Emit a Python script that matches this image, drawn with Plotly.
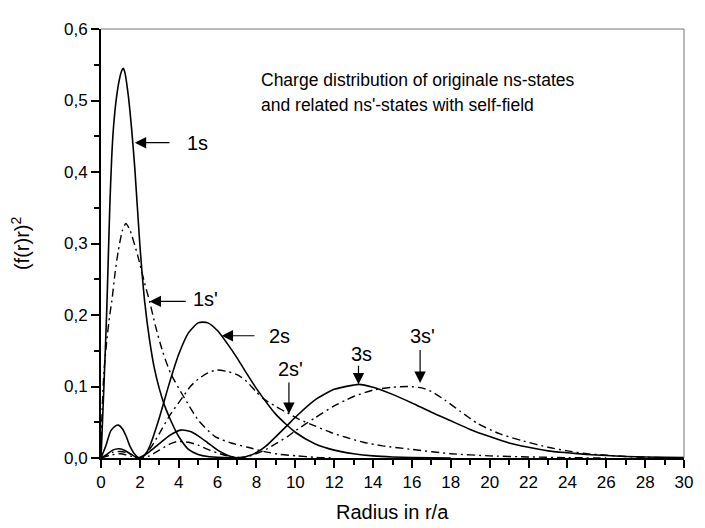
import plotly.graph_objects as go

# ---------------- data ----------------
r_1s = [0, 0.15, 0.3, 0.45, 0.55, 0.65, 0.8, 0.95, 1.07, 1.14, 1.22, 1.4, 1.57, 1.74, 2.0, 2.25,
        2.5, 2.75, 3.0, 3.25, 3.5, 3.75, 4.0, 4.5, 5.0, 5.5, 6.0, 7.0]
v_1s = [0, 0.10, 0.21, 0.35, 0.42, 0.465, 0.505, 0.53, 0.542, 0.545, 0.54, 0.508, 0.462, 0.405, 0.298, 0.218,
        0.165, 0.125, 0.097, 0.075, 0.058, 0.043, 0.03, 0.012, 0.005, 0.002, 0.001, 0]

r_2s = [0, 0.25, 0.5, 0.75, 0.9, 1.1, 1.3, 1.5, 1.75, 2.0, 2.25, 2.5, 3.0, 3.5, 4.0, 4.5, 5.0, 5.25,
        5.5, 6.0, 6.5, 7.0, 7.5, 8.0, 9.0, 10, 11, 12, 13, 14, 15, 16, 18]
v_2s = [0, 0.017, 0.038, 0.045, 0.046, 0.041, 0.03, 0.016, 0.005, 0, 0.004, 0.016, 0.056, 0.103, 0.145, 0.175, 0.189, 0.19,
        0.189, 0.178, 0.16, 0.14, 0.118, 0.097, 0.061, 0.036, 0.02, 0.011, 0.006, 0.003, 0.0015, 0.0008, 0]

r_3s = [0, 0.3, 0.6, 0.9, 1.2, 1.5, 1.9, 2.4, 3.0, 3.5, 4.1, 4.6, 5.0, 5.5, 6.0, 6.5, 7.1, 7.6, 8.0, 8.5,
        9.0, 9.6, 10, 11, 12, 13, 13.25, 14, 15, 16, 17, 18, 19, 20, 21, 22, 23, 24, 25, 26, 27, 28, 30]
v_3s = [0, 0.005, 0.011, 0.013, 0.011, 0.006, 0, 0.007, 0.02, 0.031, 0.039, 0.037, 0.031, 0.021, 0.011, 0.004, 0, 0.003, 0.0076, 0.017,
        0.03, 0.046, 0.057, 0.081, 0.096, 0.102, 0.103, 0.099, 0.089, 0.077, 0.064, 0.052, 0.04, 0.03, 0.021, 0.015, 0.01, 0.0073, 0.005, 0.0034, 0.0022, 0.0015, 0.0005]

r_1sp = [0, 0.05, 0.15, 0.3, 0.45, 0.56, 0.72, 0.89, 1.1, 1.28, 1.5, 1.9, 2.24, 2.5, 2.8, 3.17, 3.59, 4.27,
         5.03, 5.87, 6.7, 7.56, 8.4, 9.2, 10.1, 11, 12]
v_1sp = [0, 0.06, 0.12, 0.165, 0.2, 0.22, 0.258, 0.29, 0.318, 0.328, 0.318, 0.282, 0.245, 0.219, 0.185, 0.149, 0.118, 0.085,
         0.052, 0.030, 0.021, 0.015, 0.009, 0.005, 0.003, 0.001, 0]

r_2sp = [0, 0.3, 0.6, 1.0, 1.4, 1.7, 2.0, 2.5, 3.0, 3.5, 4.2, 4.6, 5.03, 5.5, 5.96, 6.5, 7.05, 7.5, 8.0, 8.4,
         9.0, 9.6, 10.2, 11.0, 11.8, 12.6, 13.5, 14.5, 16, 18, 20, 22, 24, 26]
v_2sp = [0, 0.004, 0.008, 0.009, 0.007, 0.003, 0, 0.012, 0.034, 0.058, 0.085, 0.1, 0.111, 0.119, 0.123, 0.121, 0.116, 0.107, 0.092, 0.082,
         0.072, 0.063, 0.054, 0.045, 0.036, 0.029, 0.022, 0.017, 0.012, 0.006, 0.003, 0.0015, 0.0005, 0]

r_3sp = [0, 0.5, 1.0, 1.5, 2.0, 2.5, 3.0, 3.5, 3.93, 4.5, 5.0, 5.5, 6.0, 6.5, 7.0, 7.5, 8.0, 8.5, 9.0, 9.6,
         10, 11, 12, 12.6, 13, 14, 15, 15.8, 16.5, 17, 17.7, 18.5, 19.4, 20.5, 21.7, 23, 24, 25, 26, 27, 28, 29, 30]
v_3sp = [0, 0.004, 0.006, 0.003, 0, 0.003, 0.011, 0.019, 0.023, 0.022, 0.018, 0.012, 0.007, 0.003, 0.001, 0.0015, 0.006, 0.012, 0.02, 0.03,
         0.038, 0.056, 0.073, 0.081, 0.086, 0.095, 0.099, 0.1, 0.098, 0.093, 0.081, 0.065, 0.048, 0.034, 0.024, 0.015, 0.01, 0.006, 0.004, 0.002, 0.001, 0.0005, 0]

# labels: text, label position, arrow tip and arrow tail (data units)
lab_text = ["1s", "1s'", "2s", "2s'", "3s", "3s'"]
lab_x = [4.98, 5.38, 9.18, 9.74, 13.38, 16.52]
lab_y = [0.440, 0.222, 0.170, 0.124, 0.146, 0.171]
tip_x = [1.74, 2.5, 6.21, 9.67, 13.25, 16.42]
tip_y = [0.441, 0.219, 0.171, 0.0617, 0.103, 0.105]
tail_x = [3.6, 4.44, 7.98, 9.67, 13.25, 16.42]
tail_y = [0.441, 0.219, 0.171, 0.1076, 0.131, 0.153]

x_ticks = list(range(0, 31, 2))
y_ticks = [0.0, 0.1, 0.2, 0.3, 0.4, 0.5, 0.6]
y_ticktext = ["0,0", "0,1", "0,2", "0,3", "0,4", "0,5", "0,6"]

FONT = "Liberation Sans, Arial, sans-serif"

fig = go.Figure()
solid = dict(color="black", width=1.6)
dashdot = dict(color="black", width=1.4, dash="8px,4px,2px,4px")

for xs, ys, nm, ln in [
    (r_1s, v_1s, "1s", solid), (r_2s, v_2s, "2s", solid), (r_3s, v_3s, "3s", solid),
    (r_1sp, v_1sp, "1s'", dashdot), (r_2sp, v_2sp, "2s'", dashdot), (r_3sp, v_3sp, "3s'", dashdot),
]:
    fig.add_trace(go.Scatter(x=xs, y=ys, mode="lines", name=nm,
                             line=dict(shape="spline", smoothing=0.6, **ln),
                             showlegend=False, hoverinfo="skip"))

ann = []
for t, lx, ly, tx, ty, ax_, ay_ in zip(lab_text, lab_x, lab_y, tip_x, tip_y, tail_x, tail_y):
    ann.append(dict(x=tx, y=ty, ax=ax_, ay=ay_, xref="x", yref="y", axref="x", ayref="y",
                    text="", showarrow=True, arrowhead=2, arrowsize=1.9, arrowwidth=1.2,
                    arrowcolor="black", standoff=0, startstandoff=0))
    ann.append(dict(x=lx, y=ly, xref="x", yref="y", text=t, showarrow=False,
                    font=dict(family=FONT, size=20, color="black"),
                    xanchor="center", yanchor="middle"))

ann.append(dict(x=8.15, y=0.528, xref="x", yref="y", text="Charge distribution of originale ns-states",
                showarrow=False, xanchor="left", yanchor="middle",
                font=dict(family=FONT, size=17.5, color="black")))
ann.append(dict(x=8.15, y=0.494, xref="x", yref="y", text="and related ns'-states with self-field",
                showarrow=False, xanchor="left", yanchor="middle",
                font=dict(family=FONT, size=17.5, color="black")))
ann.append(dict(x=0.5, y=-0.126, xref="x domain", yref="y domain", text="Radius in r/a",
                showarrow=False, xanchor="center", yanchor="middle",
                font=dict(family=FONT, size=20, color="black")))
ann.append(dict(x=-0.138, y=0.5, xref="x domain", yref="y domain", text="(f(r)r)<sup>2</sup>",
                showarrow=False, xanchor="center", yanchor="middle", textangle=-90,
                font=dict(family=FONT, size=20, color="black")))

# the page body adds an 8px offset, so the figure is sized/margined to compensate
fig.update_layout(
    width=697, height=520,
    margin=dict(l=93, r=12, t=15, b=70),
    paper_bgcolor="white", plot_bgcolor="white",
    font=dict(family=FONT, size=17, color="black"),
    annotations=ann,
    shapes=[
        dict(type="line", xref="x domain", yref="y domain", x0=0, x1=1, y0=1, y1=1,
             line=dict(color="#777777", width=1)),
        dict(type="line", xref="x domain", yref="y domain", x0=1, x1=1, y0=0, y1=1,
             line=dict(color="#777777", width=1)),
    ],
)
fig.update_xaxes(range=[0, 30], tickvals=x_ticks, ticktext=[str(v) for v in x_ticks],
                 showgrid=False, zeroline=False, showline=True, linecolor="black", linewidth=2,
                 ticks="outside", ticklen=8, tickwidth=2, tickcolor="black",
                 tickfont=dict(family=FONT, size=17),
                 minor=dict(ticks="outside", ticklen=5, tickwidth=1.5, tickcolor="black", dtick=1, showgrid=False))
fig.update_yaxes(range=[0, 0.6], tickvals=y_ticks, ticktext=y_ticktext,
                 showgrid=False, zeroline=False, showline=True, linecolor="black", linewidth=2,
                 ticks="outside", ticklen=8, tickwidth=2, tickcolor="black",
                 tickfont=dict(family=FONT, size=17),
                 minor=dict(ticks="outside", ticklen=5, tickwidth=1.5, tickcolor="black", dtick=0.05, showgrid=False))

fig.write_html("out.html")
